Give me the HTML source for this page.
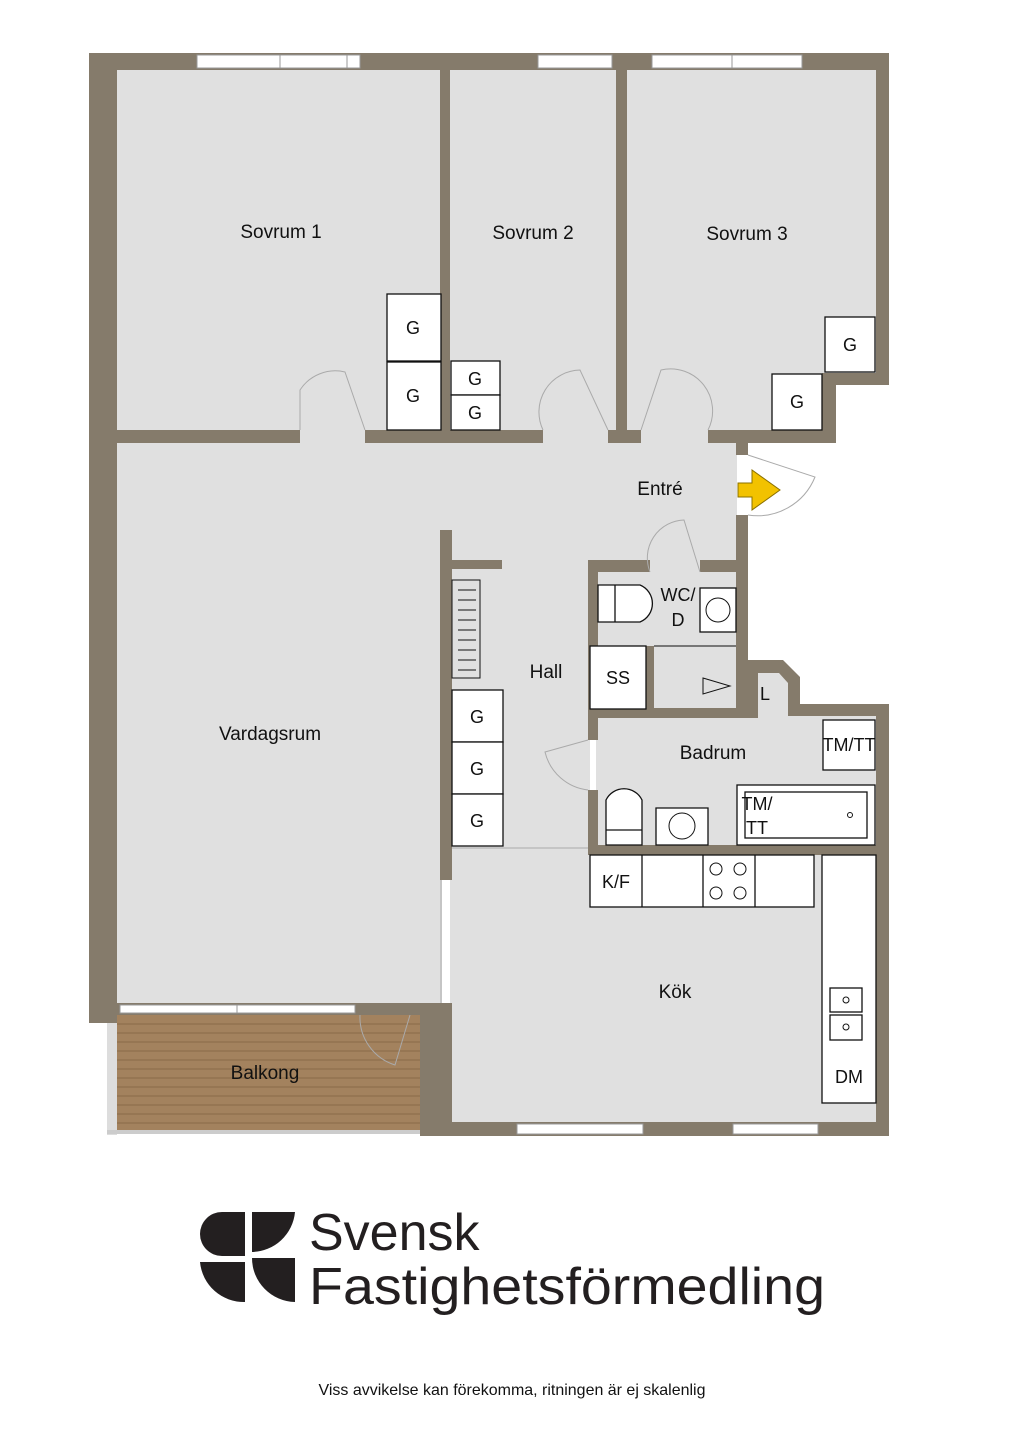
<!DOCTYPE html>
<html><head><meta charset="utf-8"><style>
html,body{margin:0;padding:0;background:#fff;}
svg{display:block}
text{font-family:"Liberation Sans",sans-serif;fill:#111}
</style></head><body>
<svg width="1024" height="1448" viewBox="0 0 1024 1448" xmlns="http://www.w3.org/2000/svg">
<!-- floors -->
<g fill="#e0e0e0">
<rect x="117" y="70" width="323" height="362"/>
<rect x="450" y="70" width="166" height="362"/>
<rect x="627" y="70" width="249" height="305"/>
<rect x="627" y="370" width="196" height="62"/>
<rect x="117" y="430" width="620" height="100"/>
<rect x="117" y="520" width="325" height="485"/>
<rect x="450" y="520" width="140" height="335"/>
<rect x="588" y="520" width="150" height="52"/>
<rect x="596" y="570" width="142" height="145"/>
<rect x="746" y="670" width="45" height="50"/>
<rect x="596" y="714" width="282" height="135"/>
<rect x="450" y="850" width="428" height="275"/>
</g>
<!-- balcony -->
<rect x="117" y="1015" width="305" height="117" fill="#a3825e"/>
<g stroke="#8a6a48" stroke-width="1">
<line x1="117" y1="1024" x2="422" y2="1024"/><line x1="117" y1="1033" x2="422" y2="1033"/>
<line x1="117" y1="1042" x2="422" y2="1042"/><line x1="117" y1="1051" x2="422" y2="1051"/>
<line x1="117" y1="1060" x2="422" y2="1060"/><line x1="117" y1="1069" x2="422" y2="1069"/>
<line x1="117" y1="1078" x2="422" y2="1078"/><line x1="117" y1="1087" x2="422" y2="1087"/>
<line x1="117" y1="1096" x2="422" y2="1096"/><line x1="117" y1="1105" x2="422" y2="1105"/>
<line x1="117" y1="1114" x2="422" y2="1114"/><line x1="117" y1="1123" x2="422" y2="1123"/>
</g>
<rect x="107" y="1015" width="10" height="120" fill="#ddd"/>
<rect x="107" y="1130" width="315" height="4" fill="#ccc"/>
<!-- walls -->
<g fill="#857b6b">
<rect x="89" y="53" width="800" height="17"/>
<rect x="89" y="53" width="28" height="970"/>
<rect x="876" y="53" width="13" height="332"/>
<rect x="836" y="373" width="53" height="12"/>
<rect x="822" y="373" width="14" height="70"/>
<rect x="616" y="430" width="25" height="13"/>
<rect x="708" y="430" width="128" height="13"/>
<rect x="117" y="430" width="183" height="13"/>
<rect x="365" y="430" width="178" height="13"/>
<rect x="608" y="430" width="10" height="13"/>
<rect x="440" y="70" width="10" height="373"/>
<rect x="616" y="70" width="11" height="373"/>
<rect x="736" y="443" width="12" height="12"/>
<rect x="736" y="515" width="12" height="203"/>
<polygon points="748,660 783,660 800,677 800,704 889,704 889,716 788,716 788,683 779,673 758,673 758,718 748,718"/>
<rect x="876" y="704" width="13" height="432"/>
<rect x="420" y="1122" width="469" height="14"/>
<rect x="117" y="1003" width="303" height="12"/>
<rect x="420" y="1003" width="32" height="133"/>
<rect x="440" y="530" width="12" height="350"/>
<rect x="452" y="560" width="50" height="9"/>
<rect x="588" y="560" width="62" height="12"/>
<rect x="700" y="560" width="38" height="12"/>
<rect x="588" y="560" width="10" height="180"/>
<rect x="588" y="790" width="10" height="65"/>
<rect x="646" y="646" width="8" height="72"/>
<rect x="588" y="708" width="170" height="10"/>
<rect x="588" y="845" width="300" height="10"/>
</g>
<!-- windows -->
<g fill="#fff" stroke="#999" stroke-width="1">
<rect x="197" y="55" width="163" height="13"/><line x1="280" y1="55" x2="280" y2="68"/><line x1="347" y1="55" x2="347" y2="68"/>
<rect x="538" y="55" width="74" height="13"/>
<rect x="652" y="55" width="150" height="13"/><line x1="732" y1="55" x2="732" y2="68"/>
<rect x="517" y="1124" width="126" height="10"/>
<rect x="733" y="1124" width="85" height="10"/>
<rect x="120" y="1005" width="235" height="8"/><line x1="237" y1="1005" x2="237" y2="1013"/>
</g>
<!-- thin lines -->
<g stroke="#aaa" stroke-width="1" fill="none">
<line x1="452" y1="848" x2="588" y2="848"/>
<line x1="441" y1="880" x2="441" y2="1003"/>
<path d="M300,430 L300,390 A42,42 0 0 1 345,372 L365,430"/>
<path d="M543,430 A42,42 0 0 1 580,370 L608,430"/>
<path d="M641,430 L661,370 A42,42 0 0 1 708,430"/>
<path d="M748,455 L815,477 A62,62 0 0 1 748,515"/>
<path d="M650,572 A38,38 0 0 1 684,520 L700,572"/>
<path d="M588,740 L545,752 A50,50 0 0 0 588,790"/>
<path d="M360,1015 A50,50 0 0 0 395,1065 L410,1015"/>
</g>
<line x1="654" y1="646" x2="736" y2="646" stroke="#777" stroke-width="2"/>
<!-- door arrow -->
<polygon points="738,483 752,483 752,470 780,490 752,510 752,497 738,497" fill="#f2c200" stroke="#8a7000" stroke-width="1"/>
<!-- boxes -->
<g fill="#fff" stroke="#111" stroke-width="1.3">
<rect x="387" y="294" width="54" height="67"/><rect x="387" y="362" width="54" height="68"/>
<rect x="451" y="361" width="49" height="34"/><rect x="451" y="395" width="49" height="35"/>
<rect x="825" y="317" width="50" height="55"/><rect x="772" y="374" width="50" height="56"/>
<rect x="452" y="690" width="51" height="52"/><rect x="452" y="742" width="51" height="52"/><rect x="452" y="794" width="51" height="52"/>
<rect x="590" y="646" width="56" height="63"/>
<rect x="823" y="720" width="52" height="50"/>
<rect x="737" y="785" width="138" height="60"/><rect x="745" y="792" width="122" height="46"/>
<rect x="590" y="855" width="224" height="52"/>
<line x1="642" y1="855" x2="642" y2="907"/><line x1="703" y1="855" x2="703" y2="907"/><line x1="755" y1="855" x2="755" y2="907"/>
<rect x="822" y="855" width="54" height="248"/>
<rect x="830" y="988" width="32" height="24"/><rect x="830" y="1015" width="32" height="25"/>
<path d="M598,585 H640 A20,20 0 0 1 640,622 H598 Z"/><line x1="615" y1="585" x2="615" y2="622"/>
<rect x="700" y="588" width="36" height="44"/>
<path d="M606,800 A20,20 0 0 1 642,800 V845 H606 Z"/><line x1="606" y1="830" x2="642" y2="830"/>
<path d="M656,808 H708 V845 H656 Z"/>
</g>
<g fill="none" stroke="#111" stroke-width="1">
<circle cx="716" cy="869" r="6"/><circle cx="740" cy="869" r="6"/><circle cx="716" cy="893" r="6"/><circle cx="740" cy="893" r="6"/>
<circle cx="846" cy="1000" r="3"/><circle cx="846" cy="1027" r="3"/><circle cx="850" cy="815" r="2.5"/>
<circle cx="682" cy="826" r="13"/><circle cx="718" cy="610" r="12"/>
<path d="M703,678 L730,686 L703,694 Z"/>
<rect x="452" y="580" width="28" height="98"/>
</g>
<g stroke="#111" stroke-width="1">
<line x1="458" y1="590" x2="476" y2="590"/><line x1="458" y1="600" x2="476" y2="600"/><line x1="458" y1="610" x2="476" y2="610"/><line x1="458" y1="620" x2="476" y2="620"/><line x1="458" y1="630" x2="476" y2="630"/><line x1="458" y1="640" x2="476" y2="640"/><line x1="458" y1="650" x2="476" y2="650"/><line x1="458" y1="660" x2="476" y2="660"/><line x1="458" y1="670" x2="476" y2="670"/>
</g>
<!-- labels -->
<g font-size="19" text-anchor="middle">
<text x="281" y="238">Sovrum 1</text>
<text x="533" y="239">Sovrum 2</text>
<text x="747" y="240">Sovrum 3</text>
<text x="660" y="495">Entré</text>
<text x="546" y="678">Hall</text>
<text x="270" y="740">Vardagsrum</text>
<text x="713" y="759">Badrum</text>
<text x="675" y="998">Kök</text>
<text x="265" y="1079">Balkong</text>
</g>
<g font-size="18" text-anchor="middle">
<text x="413" y="334">G</text><text x="413" y="402">G</text>
<text x="475" y="385">G</text><text x="475" y="419">G</text>
<text x="850" y="351">G</text><text x="797" y="408">G</text>
<text x="477" y="723">G</text><text x="477" y="775">G</text><text x="477" y="827">G</text>
<text x="618" y="684">SS</text>
<text x="765" y="700">L</text>
<text x="849" y="751">TM/TT</text>
<text x="678" y="601">WC/</text><text x="678" y="626">D</text>
<text x="757" y="810">TM/</text><text x="757" y="834">TT</text>
<text x="616" y="888">K/F</text>
<text x="849" y="1083">DM</text>
</g>
<!-- logo -->
<g fill="#231f20">
<path d="M245,1212 V1256 H222 A22,22 0 0 1 200,1234 A22,22 0 0 1 222,1212 Z"/>
<path d="M252,1212 H295 A44,44 0 0 1 252,1252 Z"/>
<path d="M200,1262 H245 V1302 A44,44 0 0 1 200,1262 Z"/>
<path d="M252,1258 H295 V1302 A44,44 0 0 1 252,1258 Z"/>
</g>
<text x="309" y="1250" font-size="52" style="fill:#231f20">Svensk</text>
<text x="309" y="1304" font-size="52" textLength="516" lengthAdjust="spacingAndGlyphs" style="fill:#231f20">Fastighetsförmedling</text>
<text x="512" y="1395" font-size="16" text-anchor="middle" textLength="387" lengthAdjust="spacingAndGlyphs">Viss avvikelse kan förekomma, ritningen är ej skalenlig</text>
</svg>
</body></html>
